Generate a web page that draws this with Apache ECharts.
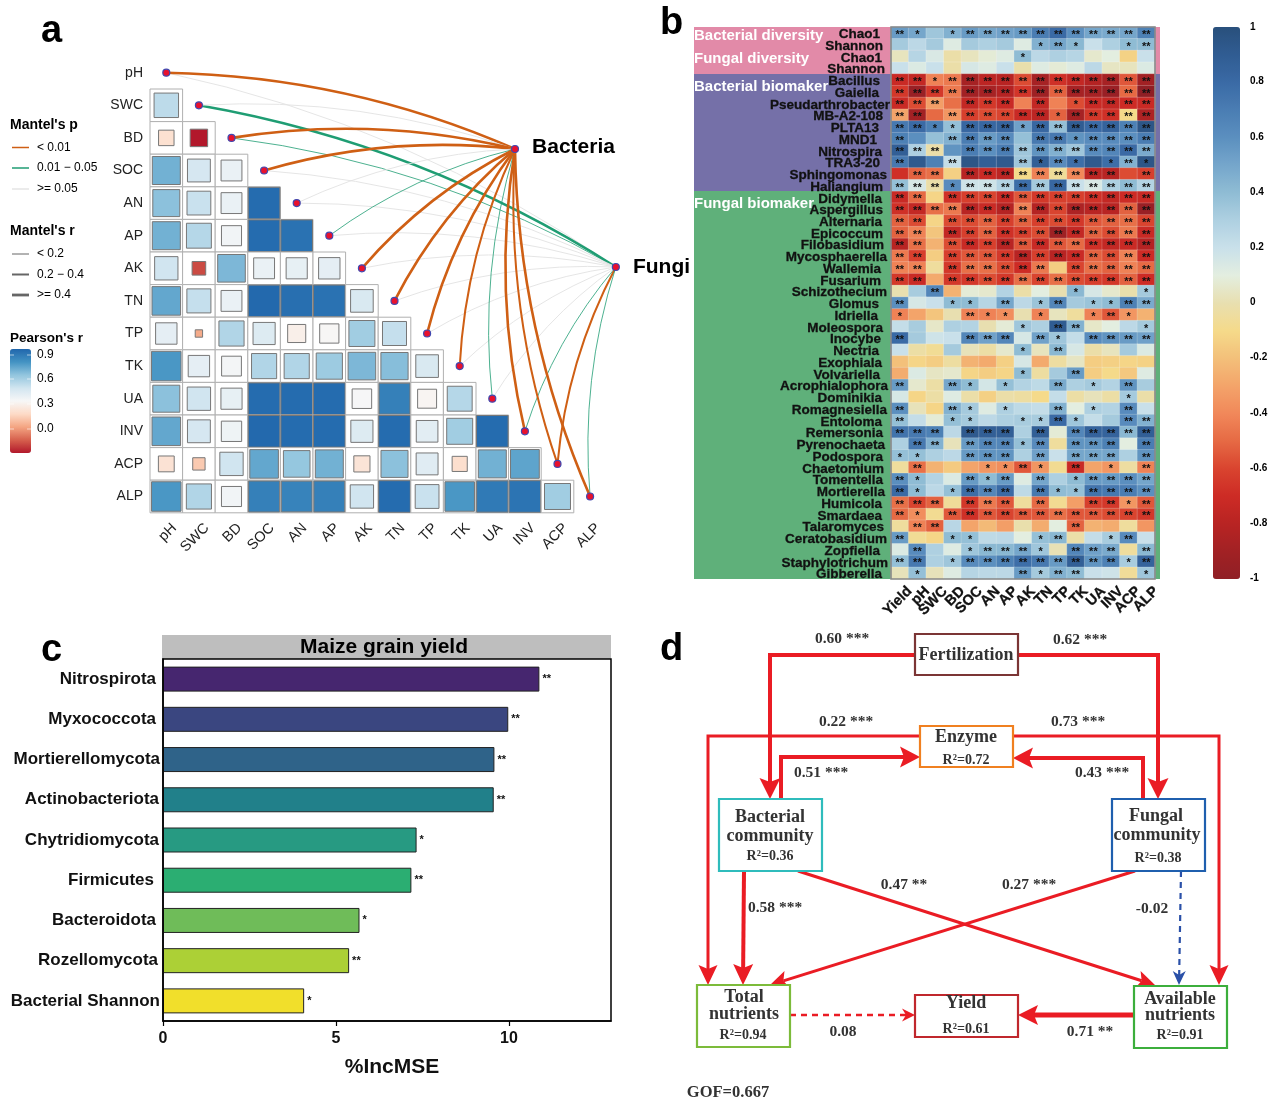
<!DOCTYPE html>
<html><head><meta charset="utf-8">
<style>html,body{margin:0;padding:0;background:#fff}#c{width:1268px;height:1109px}</style>
<script src="https://cdn.jsdelivr.net/npm/echarts@6/dist/echarts.min.js"></script>
</head><body><div id="c"></div>
<script>
// ---------- Panel a: environmental correlation ----------
const envVars = ['pH','SWC','BD','SOC','AN','AP','AK','TN','TP','TK','UA','INV','ACP','ALP'];
const pearsonRows = [
 [],
 [.55],
 [.22,-.28],
 [.72,.48,.40],
 [.67,.52,.40,.95],
 [.72,.57,.37,.95,.93],
 [.50,-.17,.70,.40,.41,.42],
 [.75,.53,.40,.96,.94,.93,.47],
 [.42,.05,.58,.45,.30,.34,.62,.53],
 [.80,.42,.36,.58,.58,.63,.70,.68,.47],
 [.67,.50,.41,.95,.95,.95,.35,.88,.33,.57],
 [.75,.48,.38,.96,.95,.95,.45,.95,.43,.62,.95],
 [.23,.14,.50,.75,.65,.72,.24,.67,.44,.21,.72,.76],
 [.80,.58,.37,.88,.87,.88,.50,.95,.52,.80,.90,.92,.62]
];
// Mantel classes per variable: p 0 (<0.01) 1 (0.01-0.05) 2 (>=0.05); r 0 (<0.2) 1 (0.2-0.4) 2 (>=0.4)
const bacteriaP = [0,2,0,0,2,1,0,0,0,0,1,0,0,0];
const bacteriaR = [2,0,2,2,0,0,2,2,2,1,0,2,1,2];
const fungiP    = [2,1,1,2,2,2,2,2,2,2,2,1,0,1];
const fungiR    = [0,2,0,0,0,0,0,0,0,0,0,0,1,0];

// ---------- Panel b: heatmap ----------
const heatCols = ['Yield','pH','SWC','BD','SOC','AN','AP','AK','TN','TP','TK','UA','INV','ACP','ALP'];
const heatRows = ['Chao1','Shannon','Chao1','Shannon','Bacillus','Gaiella','Pseudarthrobacter','MB-A2-108','PLTA13','MND1','Nitrospira','TRA3-20','Sphingomonas','Haliangium','Didymella','Aspergillus','Alternaria','Epicoccum','Filobasidium','Mycosphaerella','Wallemia','Fusarium','Schizothecium','Glomus','Idriella','Moleospora','Inocybe','Nectria','Exophiala','Volvariella','Acrophialophora','Dominikia','Romagnesiella','Entoloma','Remersonia','Pyrenochaeta','Podospora','Chaetomium','Tomentella','Mortierella','Humicola','Smardaea','Talaromyces','Ceratobasidium','Zopfiella','Staphylotrichum','Gibberella'];
const heatValues = [
[.55,.5,.35,.45,.55,.5,.52,.55,.7,.8,.6,.5,.48,.5,.68],
[.33,.25,.33,.12,.33,.3,.33,.12,.45,.5,.42,.2,.3,.4,.4],
[.03,.27,.14,-.02,.03,.08,.12,.4,.25,.3,.27,.06,.1,-.13,.2],
[.2,.13,.2,-.02,.15,.12,.2,-.01,.12,.08,.12,.25,.04,.03,.13],
[-.72,-.75,-.42,-.45,-.88,-.78,-.8,-.58,-.88,-.68,-.75,-.82,-.88,-.55,-.9],
[-.65,-.95,-.65,-.45,-.9,-.88,-.82,-.66,-.92,-.52,-.88,-.88,-.95,-.5,-1],
[-.72,-.58,-.32,-.48,-.75,-.65,-.72,-.42,-.75,-.42,-.58,-.72,-.75,-.7,-.72],
[-.3,-.9,-.5,-.35,-.62,-.58,-.6,-.72,-.78,-.52,-.88,-.65,-.68,-.1,-.85],
[.72,.8,.68,.38,.82,.82,.85,.52,.82,.38,.9,.8,.85,.68,.95],
[.68,.6,.38,.45,.7,.55,.62,.38,.72,.72,.58,.62,.62,.6,.7],
[.88,.3,-.02,.58,.7,.6,.7,.35,.58,.45,.35,.62,.65,.8,.48],
[.72,.92,.68,.22,.95,.88,.92,.35,.88,.62,.78,.92,.78,.45,.95],
[-.68,-.52,-.48,-.14,-.8,-.72,-.78,-.1,-.42,-.06,-.4,-.78,-.8,-.58,-.62],
[.38,.15,-.02,.62,.18,.18,.28,.78,.33,.82,.2,.14,.3,.4,.28],
[-.72,-.5,-.12,-.68,-.62,-.6,-.72,-.55,-.65,-.62,-.62,-.68,-.75,-.7,-.72],
[-.68,-.75,-.48,-.45,-.8,-.72,-.82,-.42,-.82,-.6,-.85,-.8,-.8,-.52,-.95],
[-.52,-.58,-.12,-.58,-.58,-.52,-.62,-.52,-.62,-.58,-.65,-.55,-.52,-.48,-.6],
[-.52,-.42,-.18,-.75,-.62,-.52,-.68,-.62,-.58,-.92,-.75,-.52,-.58,-.45,-.72],
[-.8,-.48,-.25,-.58,-.72,-.62,-.8,-.55,-.72,-.55,-.5,-.68,-.75,-.72,-.82],
[-.45,-.62,-.15,-.62,-.55,-.55,-.65,-.8,-.62,-.8,-.72,-.52,-.58,-.42,-.7],
[-.42,-.42,-.05,-.65,-.48,-.48,-.58,-.7,-.45,-.15,-.6,-.48,-.52,-.42,-.5],
[-.65,-.72,-.28,-.65,-.65,-.58,-.65,-.48,-.6,-.48,-.58,-.62,-.65,-.52,-.7],
[0,.32,.65,-.25,.08,.06,.28,-.02,.1,0,.42,.15,.06,-.01,.33],
[.6,.15,.2,.4,.4,.27,.5,.25,.36,.65,.33,.36,.4,.68,.48],
[-.42,-.3,-.18,0,-.42,-.42,-.38,0,-.42,.03,-.05,-.42,-.55,-.35,-.25],
[.22,.32,.05,.3,.28,0,.08,.35,.3,.9,.45,.05,.1,.25,.33],
[.8,.33,.18,.2,.65,.52,.65,.15,.52,.35,.22,.62,.58,.55,.52],
[.2,-.03,-.07,.33,.02,-.03,.06,.4,.03,.42,.15,-.02,.03,.33,.13],
[-.2,-.12,-.15,-.04,-.25,-.28,-.14,.15,-.28,-.04,.04,-.15,-.14,-.12,-.13],
[-.27,.13,.04,.06,-.12,-.15,-.12,.4,-.04,.33,.55,-.15,-.1,-.17,.12],
[.55,.06,-.03,.5,.4,.16,.38,.28,.24,.48,.3,.33,.28,.58,.32],
[.15,-.12,-.03,.12,-.02,-.14,-.02,-.04,-.1,.22,-.03,.02,-.03,.33,-.02],
[.6,.02,-.12,.45,.33,.12,.3,.24,.22,.45,.1,.3,.28,.62,.2],
[.38,.22,.08,.38,.33,.25,.3,.32,.32,.8,.35,.22,.33,.62,.45],
[.75,.72,.68,.25,.92,.88,.88,.3,.88,.08,.65,.85,.85,.42,.88],
[.3,.72,.45,.02,.55,.65,.65,.38,.62,-.05,.58,.58,.68,.1,.7],
[.38,.38,.3,.25,.55,.58,.58,.3,.52,.2,.5,.5,.5,.3,.58],
[-.05,-.48,-.25,-.16,-.3,-.35,-.38,-.55,-.35,-.08,-.72,-.3,-.35,-.04,-.42],
[.6,.4,.28,.13,.55,.4,.55,.12,.5,.3,.4,.55,.55,.6,.5],
[.8,.4,.25,.38,.78,.65,.8,.24,.72,.4,.38,.75,.72,.7,.6],
[-.48,-.6,-.52,-.06,-.65,-.45,-.55,-.05,-.5,-.08,-.32,-.62,-.65,-.35,-.55],
[-.5,-.38,-.08,-.55,-.68,-.55,-.6,-.55,-.55,-.48,-.55,-.55,-.58,-.6,-.65],
[-.05,-.42,-.52,.26,-.3,-.22,-.32,-.01,-.27,.1,-.52,-.25,-.27,-.05,-.35],
[.55,-.07,-.12,.4,.38,.24,.25,.1,.38,.42,-.02,.22,.32,.62,.2],
[.13,.62,.3,.12,.35,.42,.42,.5,.35,.01,.65,.52,.48,-.05,.42],
[.38,.72,.3,.35,.62,.6,.68,.78,.72,.55,.88,.58,.68,.32,.85],
[.02,.38,.02,.12,.27,.25,.25,.55,.33,.45,.4,.2,.18,-.06,.35]
];
// number of significance stars per cell
const heatStars = [
'210122222222222','000000001210012','000000010000000','000000000000000',
'221222222222222','222222222222222','222022202012222','220222222122222',
'221122212222222','200222202212222','222022222222222','200200021210121',
'022022222222202','222122222222222','220222222222222','222222222222222',
'220222222222222','220222222222222','220222222222222','220222222222222',
'220222222022222','220222222222222','002000000010001','200110201201122',
'100021101001210','000000010220001','200022202102222','000000010200000',
'000000000000000','000000010020000','200210100201020','000000000000010',
'200210100201020','200110011210022','222022202022222','022022212022202',
'110022202022202','020001121020102','210021202012222','210122202112222',
'222022202002212','210222222222222','022000000020000','200110001200120',
'020012221022202','220122222222212','010000021220001'
];

// ---------- Panel c: bars ----------
const barNames = ['Nitrospirota','Myxococcota','Mortierellomycota','Actinobacteriota','Chytridiomycota','Firmicutes','Bacteroidota','Rozellomycota','Bacterial Shannon'];
const barValues = [10.88,9.98,9.58,9.56,7.33,7.18,5.68,5.38,4.08];
const barStars = ['**','**','**','**','*','**','*','**','*'];
const barColors = ['#46266f','#3a4680','#2f6389','#21808a','#279a82','#2bae72','#6fbc59','#acd036','#f1df2b'];

// ---------- label layout (right end of each axis label, page px) ----------
const heatLabelEnd = [880,883,882,885,880,879,890,883,879,877,882,880,887,883,882,883,882,883,884,887,881,881,887,879,878,883,881,879,882,880,888,882,887,882,883,885,883,884,883,885,882,882,884,887,880,888,882];
const barLabelEnd = [156,156,160,159,159,154,156,158,160];

// ---------- Panel d: path diagram (page units) ----------
const RED='#ea1c24', BLUE='#2a50a8';
const semBoxes = [
 [915,634,1018,675,'#7b3535'],[920,726,1013,767,'#f08020'],[719,799,822,871,'#2fbcbc'],
 [1112,799,1205,871,'#1f5fae'],[697,985,790,1047,'#7cbb3a'],[915,995,1018,1037,'#c0272d'],[1134,986,1227,1048,'#3cae3c']
];
const semTexts = [
 ['Fertilization',966,655,18],['Enzyme',966,737,18],['R²=0.72',966,760,14],
 ['Bacterial',770,817,18],['community',770,836,18],['R²=0.36',770,856,14],
 ['Fungal',1156,816,18],['community',1157,835,18],['R²=0.38',1158,858,14],
 ['Total',744,997,18],['nutrients',744,1014,18],['R²=0.94',743,1035,14],
 ['Yield',966,1003,18],['R²=0.61',966,1029,14],
 ['Available',1180,999,18],['nutrients',1180,1015,18],['R²=0.91',1180,1035,14],
 ['0.60 ***',842,639,15.5],['0.62 ***',1080,640,15.5],['0.22 ***',846,722,15.5],['0.73 ***',1078,722,15.5],
 ['0.51 ***',821,773,15.5],['0.43 ***',1102,773,15.5],['0.58 ***',775,908,15.5],['0.47 **',904,885,15.5],
 ['0.27 ***',1029,885,15.5],['-0.02',1152,909,15.5],['0.08',843,1032,15.5],['0.71 **',1090,1032,15.5],
 ['GOF=0.667',728,1093,16.5]
];
const semArrows = [
 [[[915,655],[770,655],[770,799]],4,RED,0,21,10.5],
 [[[1018,655],[1158,655],[1158,799]],4,RED,0,21,10.5],
 [[[920,736],[708,736],[708,985]],3,RED,0,20,9.5],
 [[[1013,736],[1219,736],[1219,985]],3,RED,0,20,9.5],
 [[[781,799],[781,757],[920,757]],4,RED,0,20,10.5],
 [[[1143,799],[1143,758],[1013,758]],4,RED,0,20,10.5],
 [[[744,871],[743,985]],4,RED,0,21,10],
 [[[798,871],[1155,985]],3,RED,0,18,9],
 [[[1135,871],[770,985]],3,RED,0,18,9],
 [[[1181,871],[1179,985]],2.2,BLUE,1,14,6.5],
 [[[790,1015],[915,1015]],2.5,RED,1,13,6.5],
 [[[1134,1015],[1018,1015]],5,RED,0,20,10]
];

// ---------- helpers ----------
const SANS='"Liberation Sans",Arial,sans-serif', SERIF='"Liberation Serif","Times New Roman",serif';
const pearsonData=[];
pearsonRows.forEach((row,r)=>row.forEach((v,c)=>pearsonData.push([c,r,v])));
const heatData=[];
heatValues.forEach((row,r)=>row.forEach((v,c)=>heatData.push([c,r,v])));
const P_COL=['#cf5f14','#1f9d73','#e2e2e2'], R_W=[.8,2,2.6];
const hubB=[11.196,2.84], hubF=[14.29,6.46];
const linkData=[];
function addLink(i,hub,p,r){
  linkData.push({coords:[[i+.5,i+.5],hub],lineStyle:{color:P_COL[p],width:p===2?.9:R_W[r],curveness:.1,opacity:1}});
}
envVars.forEach((n,i)=>addLink(i,hubF,fungiP[i],fungiR[i]));
envVars.forEach((n,i)=>addLink(i,hubB,bacteriaP[i],bacteriaR[i]));
const nodeData=envVars.map((n,i)=>[i+.5,i+.5]);
const hubLabel=(t,dy)=>({show:true,position:'right',distance:13,offset:[0,dy],formatter:t,fontSize:21,fontWeight:'bold',fontFamily:SANS,color:'#000'});
nodeData.push({value:hubB,name:'Bacteria',label:hubLabel('Bacteria',-2)});
nodeData.push({value:hubF,name:'Fungi',label:hubLabel('Fungi',0)});

// right-aligned axis labels whose ends differ, expressed as rich-text padding
function insetLabels(ends,maxEnd,margin,topPad,style){
  const rich={};
  ends.forEach(e=>{const k=Math.max(0,maxEnd-e);rich['s'+k]=Object.assign({padding:[topPad,k,0,0]},style);});
  return {interval:0,margin,rich,formatter:(v,i)=>'{s'+Math.max(0,maxEnd-ends[i])+'|'+v+'}'};
}

function T(text,x,y,font,opt){
  opt=opt||{};
  return {type:'text',x:x,y:y,z:opt.z||5,silent:true,style:{text:text,font:font,fill:opt.fill||'#000',textAlign:opt.align||'left',textVerticalAlign:'middle'}};
}
function L(x1,y1,x2,y2,color,w){return {type:'line',silent:true,z:5,shape:{x1,y1,x2,y2},style:{stroke:color,lineWidth:w}};}
function R(x,y,w,h,fill,stroke,lw,z){return {type:'rect',silent:true,z:z||0,shape:{x,y,width:w,height:h},style:{fill:fill||'none',stroke:stroke||'none',lineWidth:lw||0}};}

const graphics=[
 T('a',41,32,'bold 38px '+SANS),T('b',660,24,'bold 38px '+SANS),T('c',41,651,'bold 38px '+SANS),T('d',660,650,'bold 38px '+SANS),
 T("Mantel's p",10,125,'bold 14px '+SANS),L(12,147.5,29,147.5,P_COL[0],1.5),T('< 0.01',37,148,'12px '+SANS),
 L(12,168,29,168,P_COL[1],1.5),T('0.01 − 0.05',37,168,'12px '+SANS),L(12,189,29,189,'#e4e4e4',1.5),T('>= 0.05',37,189,'12px '+SANS),
 T("Mantel's r",10,231,'bold 14px '+SANS),L(12,254,29,254,'#555',.9),T('< 0.2',37,254,'12px '+SANS),
 L(12,274.5,29,274.5,'#666',2),T('0.2 − 0.4',37,275,'12px '+SANS),L(12,295,29,295,'#666',2.8),T('>= 0.4',37,295,'12px '+SANS),
 T("Pearson's r",10,338,'bold 13.5px '+SANS),
 T('0.9',37,355,'12px '+SANS),T('0.6',37,379,'12px '+SANS),T('0.3',37,404,'12px '+SANS),T('0.0',37,429,'12px '+SANS),
 L(10,355,14,355,'#fff',.6),L(27,355,31,355,'#fff',.6),L(10,379,14,379,'#fff',.6),L(27,379,31,379,'#fff',.6),
 L(10,404,14,404,'#fff',.6),L(27,404,31,404,'#fff',.6),L(10,429,14,429,'#fff',.6),L(27,429,31,429,'#fff',.6),
 // panel b group bands
 R(694,27,466,47,'#e28aa8'),R(694,74,466,117,'#7570a8'),R(694,191,466,388,'#5fb07a'),
 T('Bacterial diversity',694,36,'bold 15px '+SANS,{fill:'#fff'}),T('Fungal diversity',694,59,'bold 15px '+SANS,{fill:'#fff'}),
 T('Bacterial biomaker',694,87,'bold 15px '+SANS,{fill:'#fff'}),T('Fungal biomaker',694,204,'bold 15px '+SANS,{fill:'#fff'}),
 R(891,27,264,552,'none','#888',1.6,10),
 T('1',1250,27,'bold 10px '+SANS),T('0.8',1250,81,'bold 10px '+SANS),T('0.6',1250,137,'bold 10px '+SANS),T('0.4',1250,192,'bold 10px '+SANS),
 T('0.2',1250,247,'bold 10px '+SANS),T('0',1250,302,'bold 10px '+SANS),T('-0.2',1250,357,'bold 10px '+SANS),T('-0.4',1250,413,'bold 10px '+SANS),
 T('-0.6',1250,468,'bold 10px '+SANS),T('-0.8',1250,523,'bold 10px '+SANS),T('-1',1250,578,'bold 10px '+SANS),
 // panel c strip and frame
 R(162,635,449,24,'#bebebe'),T('Maize grain yield',384,647,'bold 21px '+SANS,{align:'center'}),
 R(163,659,448,362,'none','#000',1.5,10)
];

const hiddenCat=(data,gridIndex,inverse)=>({type:'category',gridIndex,data,inverse:!!inverse,show:false,axisTick:{show:false},axisLine:{show:false},splitLine:{show:false}});
const hiddenVal=(min,max,gridIndex,inverse)=>({type:'value',gridIndex,min,max,inverse:!!inverse,show:false,splitLine:{show:false},axisLine:{show:false},axisTick:{show:false},axisLabel:{show:false}});
const labelCat=(data,gridIndex,position,inverse,label)=>({type:'category',gridIndex,data,position,inverse:!!inverse,axisLine:{show:false},axisTick:{show:false},splitLine:{show:false},axisLabel:Object.assign({interval:0},label)});

const option={
 animation:false,backgroundColor:'#fff',
 graphic:{elements:graphics},
 tooltip:{show:false},
 grid:[
  {left:0,top:0,width:1268,height:1109},
  {left:150,top:56.4,width:456.4,height:456.4},
  {left:158,top:56.4,width:456.4,height:456.4},
  {left:891,top:27,width:264,height:552},
  {left:901,top:27,width:264,height:552},
  {left:163,top:659,width:448,height:362}
 ],
 xAxis:[
  hiddenVal(0,1268,0),
  hiddenCat(envVars,1),
  hiddenVal(0,14,1),
  labelCat(envVars,2,'bottom',false,{rotate:45,margin:13,fontSize:14.5,fontFamily:SANS,color:'#222'}),
  hiddenCat(heatCols,3),
  labelCat(heatCols,4,'bottom',false,{rotate:45,margin:10,fontSize:14.5,fontWeight:'bold',fontFamily:SANS,color:'#111',textBorderColor:'#111',textBorderWidth:.3}),
  {type:'value',gridIndex:5,min:0,max:12.95,splitLine:{show:false},
   axisLine:{show:true,lineStyle:{color:'#000',width:1.5}},
   axisTick:{show:true,length:5,lineStyle:{color:'#000',width:1.2},customValues:[0,5,10]},
   axisLabel:{customValues:[0,5,10],fontSize:16,fontWeight:'bold',fontFamily:SANS,color:'#111',margin:10},
   name:'%IncMSE',nameLocation:'middle',nameGap:36,nameTextStyle:{fontSize:21,fontWeight:'bold',fontFamily:SANS,color:'#111',padding:[0,0,0,10]}}
 ],
 yAxis:[
  hiddenVal(0,1109,0,true),
  labelCat(envVars,1,'left',true,{margin:7,padding:[3,0,0,0],fontSize:14,fontFamily:SANS,color:'#222'}),
  hiddenVal(0,14,1,true),
  hiddenCat(envVars,2,true),
  labelCat(heatRows,3,'left',true,insetLabels(heatLabelEnd,890,1,3,{fontSize:13.5,fontWeight:'bold',fontFamily:SANS,color:'#111',textBorderColor:'#111',textBorderWidth:.3})),
  hiddenCat(heatRows,4,true),
  {type:'category',gridIndex:5,data:barNames,inverse:true,axisTick:{show:false},
   axisLine:{show:true,lineStyle:{color:'#000',width:1.5}},
   axisLabel:insetLabels(barLabelEnd,160,3,0,{fontSize:17,fontWeight:'bold',fontFamily:SANS,color:'#111'})}
 ],
 visualMap:[
  {type:'continuous',seriesIndex:0,dimension:2,min:-.28,max:.97,left:10,top:349,itemWidth:21,itemHeight:104,padding:0,text:null,calculable:false,hoverLink:false,
   inRange:{color:['#b2182b','#d6604d','#f4a582','#fddbc7','#f7f7f7','#d1e5f0','#92c5de','#4393c3','#2166ac']},textStyle:{fontSize:0}},
  {type:'continuous',seriesIndex:3,dimension:2,min:-1,max:1,left:1213,top:27,itemWidth:27,itemHeight:552,padding:0,text:null,calculable:false,hoverLink:false,
   inRange:{color:['#8f1f25','#a22124','#b82423','#cd2b25','#d9442f','#e66a44','#f1885a','#f3a46a','#f3c07a','#f5da8a','#e8dfb0','#e3eee0','#c9e0ea','#aed0e1','#8fbcd4','#75a6cb','#5b8fbf','#4a7db3','#3a6aa5','#305c92','#29507c']},textStyle:{fontSize:0}}
 ],
 series:[
  {type:'custom',name:'Pearson r',xAxisIndex:1,yAxisIndex:1,z:2,silent:true,data:pearsonData,encode:{x:0,y:1},
   renderItem(p,api){
    const c=api.coord([api.value(0),api.value(1)]), s=api.size([1,1]), w=s[0], h=s[1];
    const side=Math.min(w-1,33*Math.sqrt(Math.abs(api.value(2))));
    return {type:'group',children:[
      {type:'rect',shape:{x:c[0]-w/2,y:c[1]-h/2,width:w,height:h},style:{fill:'#fff',stroke:'#b0b0b0',lineWidth:1}},
      {type:'rect',shape:{x:c[0]-side/2,y:c[1]-side/2,width:side,height:side},style:{fill:api.visual('color'),stroke:'#777',lineWidth:1}}
    ]};
   }},
  {type:'lines',name:'Mantel',coordinateSystem:'cartesian2d',xAxisIndex:2,yAxisIndex:2,z:3,silent:true,clip:false,data:linkData,lineStyle:{opacity:1}},
  {type:'scatter',name:'Nodes',xAxisIndex:2,yAxisIndex:2,z:4,silent:true,clip:false,symbolSize:7,data:nodeData,itemStyle:{color:'#e8112d',borderColor:'#4048b0',borderWidth:1.2,opacity:1}},
  {type:'heatmap',name:'Correlation',xAxisIndex:4,yAxisIndex:4,z:2,silent:true,data:heatData,
   itemStyle:{borderColor:'rgba(255,255,255,.35)',borderWidth:.6},
   label:{show:true,fontSize:11,fontWeight:'bold',fontFamily:SANS,color:'#111',offset:[0,2],
    formatter(p){return '*'.repeat(+heatStars[p.value[1]][p.value[0]]);}}},
  {type:'bar',name:'%IncMSE',xAxisIndex:6,yAxisIndex:6,z:2,silent:true,barWidth:25,
   data:barValues.map((v,i)=>({value:v,itemStyle:{color:barColors[i],borderColor:'#222',borderWidth:1}})),
   label:{show:true,position:'right',distance:3,fontSize:11,fontWeight:'bold',fontFamily:SANS,color:'#111',formatter:p=>barStars[p.dataIndex]}},
  {type:'custom',name:'SEM paths',xAxisIndex:0,yAxisIndex:0,z:3,silent:true,clip:false,data:semArrows.map((a,i)=>[i]),
   renderItem(p,api){
    const a=semArrows[p.dataIndex], pts=a[0].map(q=>api.coord(q)), n=pts.length;
    const tip=pts[n-1], prev=pts[n-2], dx=tip[0]-prev[0], dy=tip[1]-prev[1], len=Math.hypot(dx,dy), ux=dx/len, uy=dy/len;
    const hl=a[4], hw=a[5];
    const notch=[tip[0]-ux*(hl-4),tip[1]-uy*(hl-4)];
    const bx=tip[0]-ux*hl, by=tip[1]-uy*hl;
    const line=pts.slice(0,n-1).concat([notch]);
    return {type:'group',children:[
      {type:'polyline',shape:{points:line},style:{fill:'none',stroke:a[2],lineWidth:a[1],lineDash:a[3]?[6,5]:null}},
      {type:'polygon',shape:{points:[tip,[bx-uy*hw,by+ux*hw],notch,[bx+uy*hw,by-ux*hw]]},style:{fill:a[2]}}
    ]};
   }},
  {type:'custom',name:'SEM boxes',xAxisIndex:0,yAxisIndex:0,z:4,silent:true,clip:false,data:semBoxes.map((b,i)=>[i]),
   renderItem(p,api){
    const b=semBoxes[p.dataIndex], a=api.coord([b[0],b[1]]), c=api.coord([b[2],b[3]]);
    return {type:'rect',shape:{x:a[0],y:a[1],width:c[0]-a[0],height:c[1]-a[1]},style:{fill:'#fff',stroke:b[4],lineWidth:2.2}};
   }},
  {type:'custom',name:'SEM text',xAxisIndex:0,yAxisIndex:0,z:5,silent:true,clip:false,data:semTexts.map((t,i)=>[i]),
   renderItem(p,api){
    const t=semTexts[p.dataIndex], c=api.coord([t[1],t[2]]);
    return {type:'text',x:c[0],y:c[1],style:{text:t[0],font:'bold '+t[3]+'px '+SERIF,fill:'#333',textAlign:'center',textVerticalAlign:'middle'}};
   }}
 ]
};
echarts.init(document.getElementById('c'),null,{renderer:'canvas'}).setOption(option);
</script></body></html>
